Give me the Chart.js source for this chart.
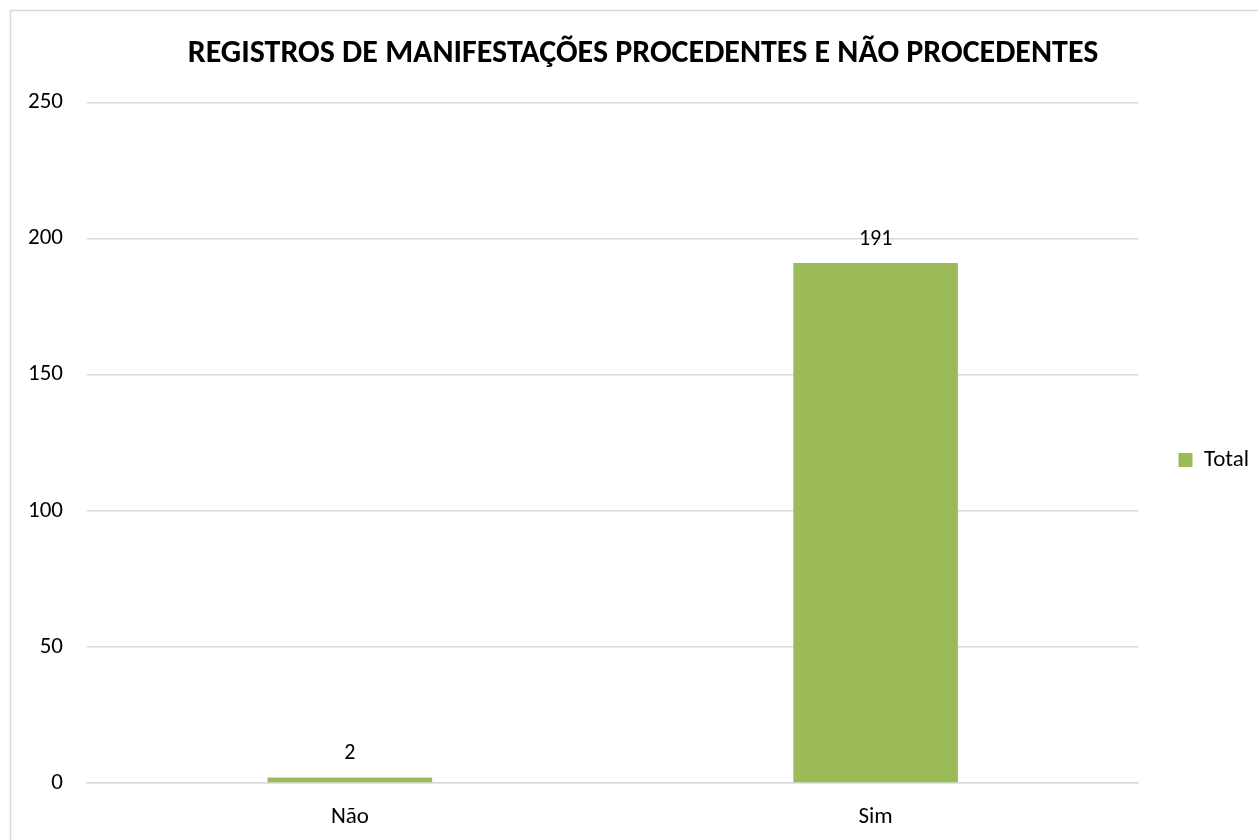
<!DOCTYPE html>
<html>
<head>
<meta charset="utf-8">
<script src="https://cdn.jsdelivr.net/npm/chart.js@4.4.0/dist/chart.umd.min.js"></script>
<style>
  body { margin: 0; background: #fff; overflow: hidden; }
  #wrap { width: 1258px; height: 840px; overflow: hidden; }
</style>
</head>
<body>
<div id="wrap"><canvas id="chart-0" width="1290" height="840"></canvas></div>
<script>
var categories = ["Não", "Sim"];
var totals = [2, 191];
var yTicks = [0, 50, 100, 150, 200, 250];

var fontFam = "Carlito, 'Liberation Sans Narrow', 'Open Sans', sans-serif";

// frame around the chart, like the spreadsheet chart border
var framePlugin = {
  id: "frame",
  beforeDraw: function(chart) {
    var ctx = chart.ctx;
    ctx.save();
    ctx.fillStyle = "#fff";
    ctx.fillRect(0, 0, chart.width, chart.height);
    ctx.strokeStyle = "#d9d9d9";
    ctx.lineWidth = 1.5;
    ctx.strokeRect(10.5, 10.5, 1400, 1000);
    ctx.restore();
  }
};

// value labels above the bars
var valuePlugin = {
  id: "values",
  afterDatasetsDraw: function(chart) {
    var ctx = chart.ctx;
    var meta = chart.getDatasetMeta(0);
    ctx.save();
    ctx.font = "22px " + fontFam;
    ctx.fillStyle = "#000";
    ctx.textAlign = "center";
    ctx.textBaseline = "middle";
    meta.data.forEach(function(bar, i) {
      ctx.fillText(String(totals[i]), bar.x, bar.y - 24);
    });
    ctx.restore();
  }
};

new Chart(document.getElementById("chart-0"), {
  type: "bar",
  data: {
    labels: categories,
    datasets: [{
      label: "Total",
      data: totals,
      backgroundColor: "#9bbb59",
      categoryPercentage: 1,
      barPercentage: 0.313
    }]
  },
  options: {
    responsive: false,
    animation: false,
    layout: { padding: { left: 27, right: 31, top: 22, bottom: 10 } },
    plugins: {
      title: {
        display: true,
        text: "REGISTROS DE MANIFESTAÇÕES PROCEDENTES E NÃO PROCEDENTES",
        color: "#000",
        font: { family: fontFam, size: 32, weight: "bold" },
        padding: { top: 13, bottom: 29 }
      },
      legend: {
        position: "right",
        title: { display: true, text: " ", font: { size: 10 }, padding: 28 },
        labels: {
          boxWidth: 14,
          boxHeight: 14,
          color: "#000",
          font: { family: fontFam, size: 23 },
          padding: 40
        }
      },
      tooltip: { enabled: false }
    },
    scales: {
      x: {
        afterFit: function(s) { s.height = 47; },
        grid: { display: false },
        border: { color: "#d9d9d9", width: 1.5 },
        ticks: { color: "#000", font: { family: fontFam, size: 23 }, padding: 12 }
      },
      y: {
        min: 0,
        max: 250,
        afterFit: function(s) { s.width = 60; },
        afterBuildTicks: function(s) {
          s.ticks = yTicks.map(function(v) { return { value: v }; });
        },
        grid: { color: "#d9d9d9", lineWidth: 1.5, drawTicks: false },
        border: { display: false },
        ticks: { color: "#000", font: { family: fontFam, size: 23 }, padding: 24 }
      }
    }
  },
  plugins: [framePlugin, valuePlugin]
});
</script>
</body>
</html>
